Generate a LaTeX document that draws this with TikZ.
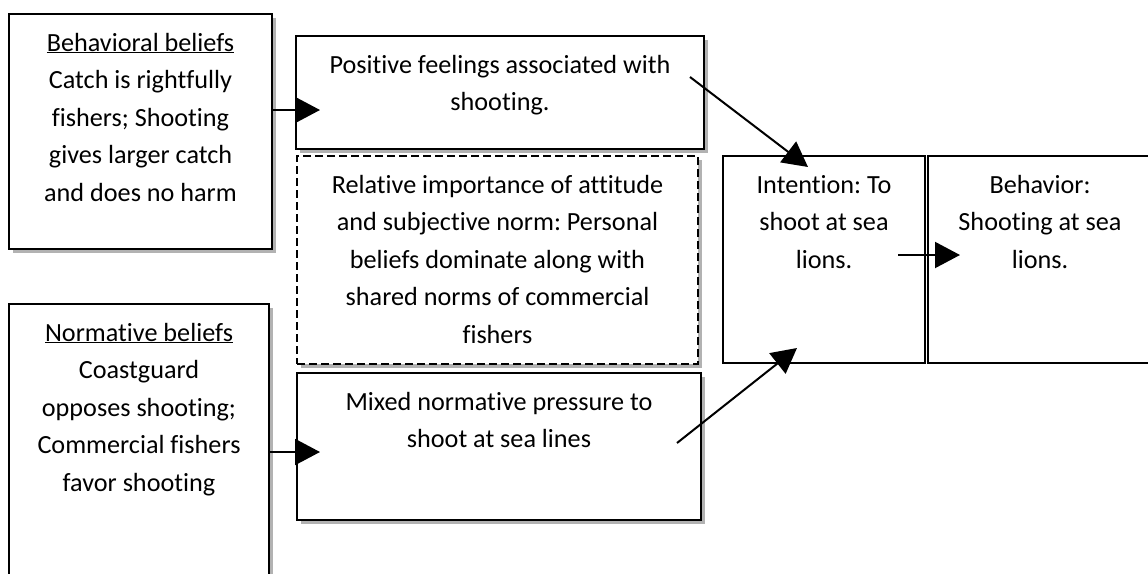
\documentclass[tikz,border=0pt]{standalone}
\usepackage{fontspec}
\setmainfont{Carlito}[Ligatures=NoCommon]
\frenchspacing
\usetikzlibrary{arrows.meta,shadows}

% text block: width, height, lines (first baseline 37pt below the top)
\newcommand{\boxtxt}[3]{\parbox[t][#2][t]{#1}{\centering\rule{0pt}{37pt}#3}}

\begin{document}
\begin{tikzpicture}[x=1pt, y=-1pt, line width=2pt,
    font=\fontsize{26.2}{37.5}\selectfont,
    panel/.style={draw, fill=white, inner sep=0pt, anchor=north west},
    shadowed/.style={panel, drop shadow={shadow xshift=4pt, shadow yshift=-4pt, fill=black!30, opacity=1}},
    dashpanel/.style={shadowed, dash pattern=on 8pt off 4pt},
    arr/.style={-{Triangle[length=25pt,width=26pt]}}]

  %% ════ boxes ════
  \node[shadowed] (behav) at (8,13) {\boxtxt{263pt}{235pt}{\underline{Behavioral beliefs}\\Catch is rightfully\\fishers; Shooting\\gives larger catch\\and does no harm}};
  \node[shadowed] (norm) at (8,303) {\boxtxt{260pt}{285pt}{\underline{Normative beliefs}\\Coastguard\\opposes shooting;\\Commercial fishers\\favor shooting}};
  \node[shadowed] (feel) at (295,35) {\boxtxt{408pt}{113pt}{Positive feelings associated with\\shooting.}};
  \node[dashpanel] (weight) at (296,155) {\boxtxt{401pt}{208pt}{Relative importance of attitude\\and subjective norm: Personal\\beliefs dominate along with\\shared norms of commercial\\fishers}};
  \node[shadowed] (press) at (296,372) {\boxtxt{404pt}{147pt}{Mixed normative pressure to\\shoot at sea lines}};
  \node[panel] (intent) at (722,155) {\boxtxt{202pt}{207pt}{Intention: To\\shoot at sea\\lions.}};
  \node[panel] (act) at (927,155) {\boxtxt{224pt}{207pt}{Behavior:\\Shooting at sea\\lions.}};

  %% ════ arrow ends ════
  \coordinate (feelin) at (320,110);
  \coordinate (pressin) at (320,452);
  \coordinate (feelout) at (690,77);
  \coordinate (intentin) at (808,167);
  \coordinate (pressout) at (677,443);
  \coordinate (intentlow) at (797,348);
  \coordinate (intentout) at (898,255);
  \coordinate (actin) at (960,255);

  %% ════ arrows ════
  \draw[arr] (behav.east |- feelin) -- (feelin);
  \draw[arr] (norm.east |- pressin) -- (pressin);
  \draw[arr] (feelout) -- (intentin);
  \draw[arr] (pressout) -- (intentlow);
  \draw[arr] (intentout) -- (actin);

  \pgfresetboundingbox
  \path[use as bounding box] (0,0) rectangle (1148,573);
\end{tikzpicture}
\end{document}
